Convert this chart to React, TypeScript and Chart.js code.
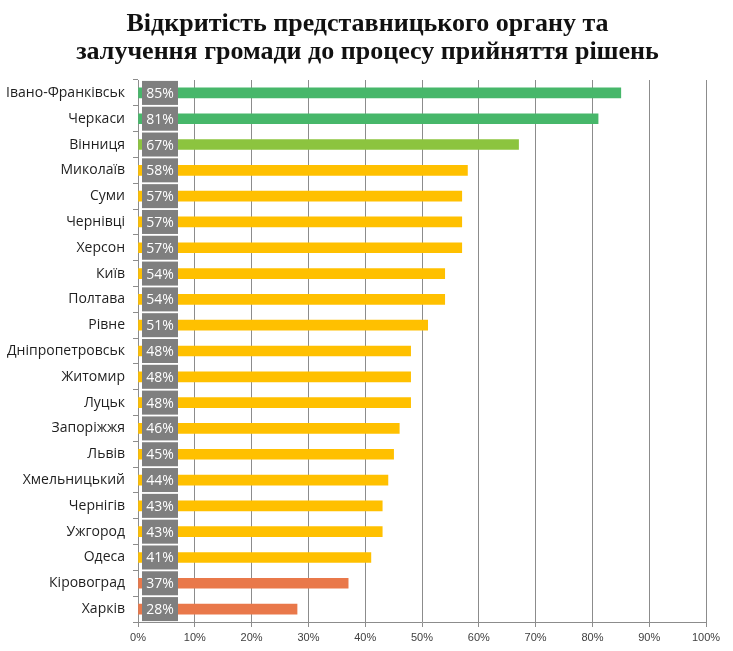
import React, {useEffect, useRef} from 'react'
import {Chart, registerables} from 'chart.js'

Chart.register(...registerables)

const titleLines = ['Відкритість представницького органу та', 'залучення громади до процесу прийняття рішень']

const cities = [
  'Івано-Франківськ',
  'Черкаси',
  'Вінниця',
  'Миколаїв',
  'Суми',
  'Чернівці',
  'Херсон',
  'Київ',
  'Полтава',
  'Рівне',
  'Дніпропетровськ',
  'Житомир',
  'Луцьк',
  'Запоріжжя',
  'Львів',
  'Хмельницький',
  'Чернігів',
  'Ужгород',
  'Одеса',
  'Кіровоград',
  'Харків',
]

const openness = [85, 81, 67, 58, 57, 57, 57, 54, 54, 51, 48, 48, 48, 46, 45, 44, 43, 43, 41, 37, 28]

const xTicks = [0, 10, 20, 30, 40, 50, 60, 70, 80, 90, 100]

// colour by level, like the source
const barColor = (v: number) => {
  if (v >= 75) return '#47b76a'
  if (v >= 60) return '#8cc43f'
  if (v >= 40) return '#ffc000'
  return '#e9784a'
}

// grey boxes with the percentage near the axis
const valueBoxes = {
  id: 'valueBoxes',
  afterDatasetsDraw(chart: any) {
    const {ctx, scales} = chart
    const meta = chart.getDatasetMeta(0)
    const x0 = scales.x.getPixelForValue(0)
    ctx.save()
    meta.data.forEach((bar: any, i: number) => {
      const y = bar.y
      ctx.fillStyle = '#7f7f7f'
      ctx.fillRect(x0 + 4, y - 12, 36, 24)
      ctx.fillStyle = '#ffffff'
      ctx.font = '14px "Open Sans", "Liberation Sans", sans-serif'
      ctx.textAlign = 'center'
      ctx.textBaseline = 'middle'
      ctx.fillText(openness[i] + '%', x0 + 22, y + 1)
    })
    ctx.restore()
  },
}

// title centred on the whole canvas (the built-in one centres on the padded box)
const pageTitle = {
  id: 'pageTitle',
  afterDraw(chart: any) {
    const {ctx, width} = chart
    ctx.save()
    ctx.fillStyle = '#111'
    ctx.font = 'bold 26px "Liberation Serif", "DejaVu Serif", serif'
    ctx.textAlign = 'center'
    ctx.textBaseline = 'alphabetic'
    titleLines.forEach((line, i) => {
      ctx.fillText(line, width / 2 + 1, 31 + i * 28)
    })
    ctx.restore()
  },
}

const OpennessChart: React.FC = () => {
  const chartRef = useRef<HTMLCanvasElement | null>(null)

  useEffect(() => {
    if (!chartRef.current) {
      return
    }

    const chart = new Chart(chartRef.current, {
      type: 'bar',
      data: {
        labels: cities,
        datasets: [
          {
            label: 'Відкритість',
            data: openness,
            backgroundColor: openness.map(barColor),
            barThickness: 10,
          },
        ],
      },
      options: {
        indexAxis: 'y',
        animation: false,
        responsive: true,
        maintainAspectRatio: false,
        layout: {padding: {left: 0, right: 27, top: 80, bottom: 0}},
        plugins: {
          legend: {display: false},
          tooltip: {enabled: false},
          title: {display: false},
        },
        scales: {
          x: {
            min: 0,
            max: 100,
            afterBuildTicks: (scale: any) => {
              scale.ticks = xTicks.map((v) => ({value: v}))
            },
            afterFit: (scale: any) => {
              scale.height = 29
            },
            ticks: {
              callback: (v: any) => v + '%',
              color: '#404040',
              font: {family: '"Liberation Sans", Arial, sans-serif', size: 11},
              padding: 4,
              maxRotation: 0,
            },
            grid: {color: '#8c8c8c', tickLength: 5, lineWidth: 1},
            border: {color: '#8c8c8c'},
          },
          y: {
            afterFit: (scale: any) => {
              scale.width = 138
            },
            ticks: {
              color: '#1e1e1e',
              font: {family: '"Open Sans", "Liberation Sans", sans-serif', size: 14},
              padding: 8,
              autoSkip: false,
            },
            grid: {drawOnChartArea: false, color: '#8c8c8c', tickLength: 5},
            border: {color: '#8c8c8c'},
          },
        },
      },
      plugins: [valueBoxes, pageTitle],
    })

    return () => {
      chart.destroy()
    }
  }, [])

  return (
    <div style={{position: 'fixed', left: 0, top: 0, width: '733px', height: '651px', background: '#fff'}}>
      <canvas ref={chartRef} />
    </div>
  )
}

export default function App() {
  return <OpennessChart />
}
